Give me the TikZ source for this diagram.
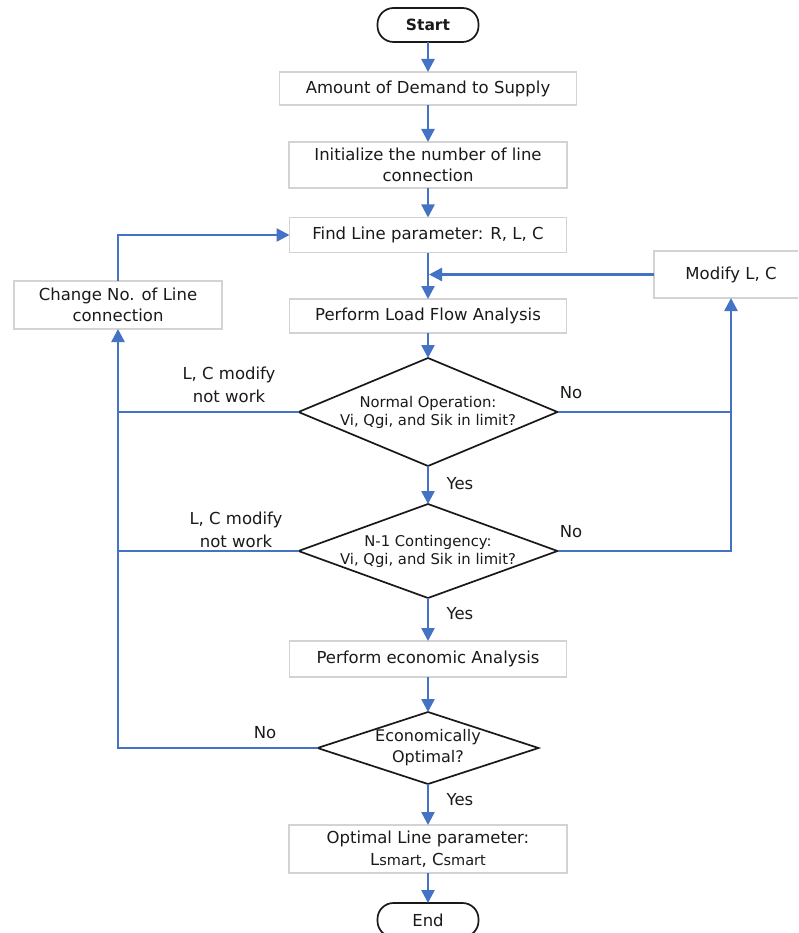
\documentclass[tikz,border=0pt]{standalone}
\usepackage{fontspec}
\setmainfont{DejaVu Sans}
\usetikzlibrary{shapes.geometric,arrows.meta}
\definecolor{arrowblue}{HTML}{4472C4}
\definecolor{boxgray}{HTML}{D3D3D3}
\definecolor{txt}{HTML}{1A1A1A}
\begin{document}
\begin{tikzpicture}[x=1pt,y=-1pt,
  box/.style={draw=boxgray,line width=1.5pt,fill=white,text=txt,align=center,inner sep=0pt,outer sep=0pt,font=\fontsize{16.5}{21.5}\selectfont},
  term/.style={draw=black!90,line width=1.7pt,fill=white,rounded corners=16pt,text=txt,inner sep=0pt,outer sep=0pt,minimum width=101pt,minimum height=34pt,font=\fontsize{16.5}{20}\selectfont},
  dec/.style={draw=black!90,line width=1.7pt,fill=white,diamond,inner sep=0pt,outer sep=0pt},
  dtext/.style={text=txt,align=center,inner sep=0pt,font=\fontsize{14.8}{18}\selectfont},
  lbl/.style={text=txt,align=center,inner sep=0pt,font=\fontsize{16.5}{23}\selectfont},
  flow/.style={draw=arrowblue,line width=2.4pt,-{Triangle[length=13pt,width=13pt]}},
  wire/.style={draw=arrowblue,line width=2.4pt}]
\useasboundingbox (0,0) rectangle (798,933);
\clip (0,0) rectangle (798,933);
\fill[white] (0,0) rectangle (798,933);

% nodes
\node[term,font=\fontsize{15.5}{20}\selectfont\bfseries] (start) at (428,25) {Start};
\node[box,minimum width=297pt,minimum height=33pt] (b1) at (428,88.5) {Amount of Demand to Supply};
\node[box,minimum width=278pt,minimum height=46pt] (b2) at (428,165) {Initialize the number of line\\connection};
\node[box,minimum width=277pt,minimum height=35pt] (b3) at (428,235) {Find Line parameter: R, L, C};
\node[box,minimum width=277pt,minimum height=34pt] (b4) at (428,316) {Perform Load Flow Analysis};
\node[box,minimum width=208pt,minimum height=48pt] (chg) at (118,305) {Change No. of Line\\connection};
\node[box,minimum width=154pt,minimum height=47pt] (mod) at (731,274.5) {Modify L, C};

\node[dec,minimum width=259pt,minimum height=108pt] (d1) at (428,412) {};
\node[dtext] (d1t) at (428,412) {Normal Operation:\\Vi, Qgi, and Sik in limit?};
\node[dec,minimum width=259pt,minimum height=94pt] (d2) at (428,551) {};
\node[dtext] (d2t) at (428,551) {N-1 Contingency:\\Vi, Qgi, and Sik in limit?};

\node[box,minimum width=277pt,minimum height=36pt] (b5) at (428,659) {Perform economic Analysis};
\node[dec,minimum width=221pt,minimum height=72pt] (d3) at (428,748) {};
\node[dtext,font=\fontsize{16}{21}\selectfont] (d3t) at (428,748) {Economically\\Optimal?};
\node[box,minimum width=278pt,minimum height=48pt] (b6) at (428,849) {Optimal Line parameter:\\L{\fontsize{14.5}{18}\selectfont smart}, C{\fontsize{14.5}{18}\selectfont smart}};
\node[term] (end) at (428,920) {End};

% labels
\node[lbl] (l1) at (229,385) {L, C modify\\not work};
\node[lbl] (l2) at (236,530) {L, C modify\\not work};
\node[lbl] (n1) at (571,393) {No};
\node[lbl] (n2) at (571,532) {No};
\node[lbl] (n3) at (265,733) {No};
\node[lbl] (y1) at (460,484) {Yes};
\node[lbl] (y2) at (460,614) {Yes};
\node[lbl] (y3) at (460,800) {Yes};

\coordinate (j1) at (b3.south |- mod.west);
\coordinate (r2) at (mod.south |- d2.east);
\coordinate (l1c) at (chg.south |- d1.west);
\coordinate (l2c) at (chg.south |- d2.west);

% connectors
\draw[flow] (start) -- (b1);
\draw[flow] (b1) -- (b2);
\draw[flow] (b2) -- (b3);
\draw[flow] (b3) -- (b4);
\draw[flow] (mod.west) -- ([xshift=1pt]j1);
\draw[flow] (b4) -- (d1.north);
\draw[flow] (d1.south) -- (d2.north);
\draw[flow] (d2.south) -- (b5);
\draw[flow] (b5) -- (d3.north);
\draw[flow] (d3.south) -- (b6);
\draw[flow] (b6) -- (end);
\draw[flow] (d1.east) -| (mod.south);
\draw[wire] (d2.east) -- (r2) -- ([yshift=-1pt]mod.south |- d1.east);
\draw[flow] (d3.west) -| (chg.south);
\draw[wire] (d1.west) -- (l1c);
\draw[wire] (d2.west) -- (l2c);
\draw[flow] (chg.north) |- (b3.west);
\end{tikzpicture}
\end{document}
